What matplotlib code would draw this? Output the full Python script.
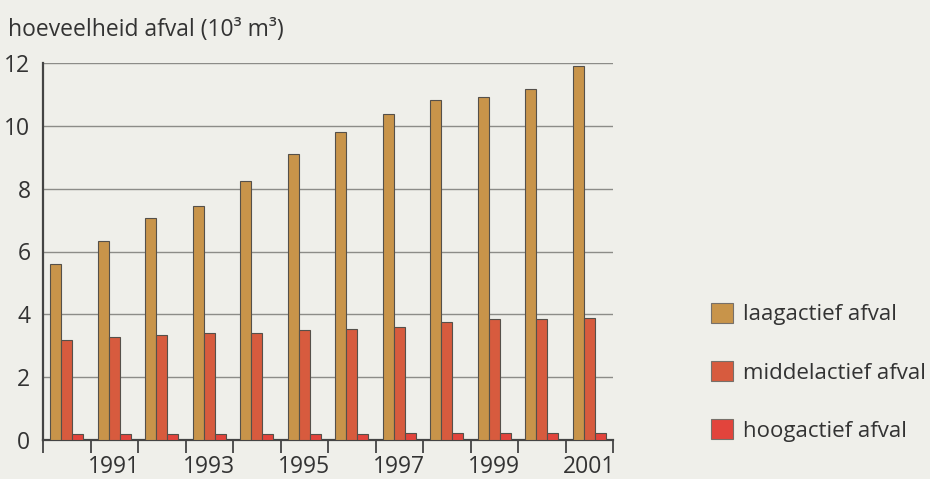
import matplotlib
matplotlib.use("Agg")
import matplotlib.pyplot as plt
from matplotlib.patches import Patch
import numpy as np

plt.rcParams['font.family'] = ['Open Sans', 'DejaVu Sans']

years = list(range(1990, 2002))
laagactief = [5.60, 6.34, 7.06, 7.44, 8.25, 9.11, 9.81, 10.38, 10.83, 10.93, 11.17, 11.89]
middelactief = [3.18, 3.28, 3.35, 3.40, 3.42, 3.50, 3.54, 3.59, 3.77, 3.86, 3.86, 3.87]
hoogactief = [0.19, 0.19, 0.19, 0.19, 0.19, 0.20, 0.20, 0.21, 0.21, 0.21, 0.22, 0.22]
series_labels = ["laagactief afval", "middelactief afval", "hoogactief afval"]
colors = ["#C8944A", "#D75B3E", "#E2443C"]
yticks = [0, 2, 4, 6, 8, 10, 12]
year_labels = [str(y) if y % 2 == 1 else "" for y in years]

bg = "#EFEFEA"
text_col = "#333333"
grid_col = "#8C8C88"

fig = plt.figure(figsize=(9.3, 4.79), dpi=100, facecolor=bg)
ax = fig.add_axes([43 / 930, 39 / 479, 570 / 930, 377 / 479])
ax.set_facecolor(bg)

x = np.arange(len(years)) + 0.5
w = 0.232
for k, (vals, col) in enumerate(zip([laagactief, middelactief, hoogactief], colors)):
    ax.bar(x + (k - 1) * w, vals, width=w, color=col, edgecolor="#55504A",
           linewidth=0.8, zorder=3)

ax.set_xlim(0, len(years))
ax.set_ylim(0, 12)
ax.set_yticks(yticks)
ax.set_yticklabels([str(t) for t in yticks], fontsize=16.5, color=text_col)
ax.tick_params(axis='y', length=0, pad=9)
ax.yaxis.grid(True, color=grid_col, linewidth=1.0, zorder=1)

ax.set_xticks(np.arange(len(years) + 1))
ax.set_xticklabels([])
ax.set_xticks(x, minor=True)
ax.set_xticklabels(year_labels, minor=True, fontsize=16.5, color=text_col)
ax.tick_params(axis='x', which='major', direction='out', length=9, width=1.3, color="#444444")
ax.tick_params(axis='x', which='minor', length=0, pad=11)

for s in ["top", "right"]:
    ax.spines[s].set_visible(False)
for s in ["left", "bottom"]:
    ax.spines[s].set_color("#444444")
    ax.spines[s].set_linewidth(1.6)

fig.text(8 / 930, 1 - 36 / 479, "hoeveelheid afval (10³ m³)", fontsize=16.5,
         color=text_col, ha="left", va="baseline")

handles = [Patch(facecolor=c, edgecolor="#77706A", linewidth=0.8) for c in colors]
fig.legend(handles, series_labels, loc="upper left",
           bbox_to_anchor=(702 / 930, 1 - 294 / 479), frameon=False,
           fontsize=16, handlelength=1.0, handleheight=1.0, handletextpad=0.45,
           labelspacing=1.6, labelcolor=text_col, borderaxespad=0)

fig.savefig("out.png", dpi=100, facecolor=bg)
